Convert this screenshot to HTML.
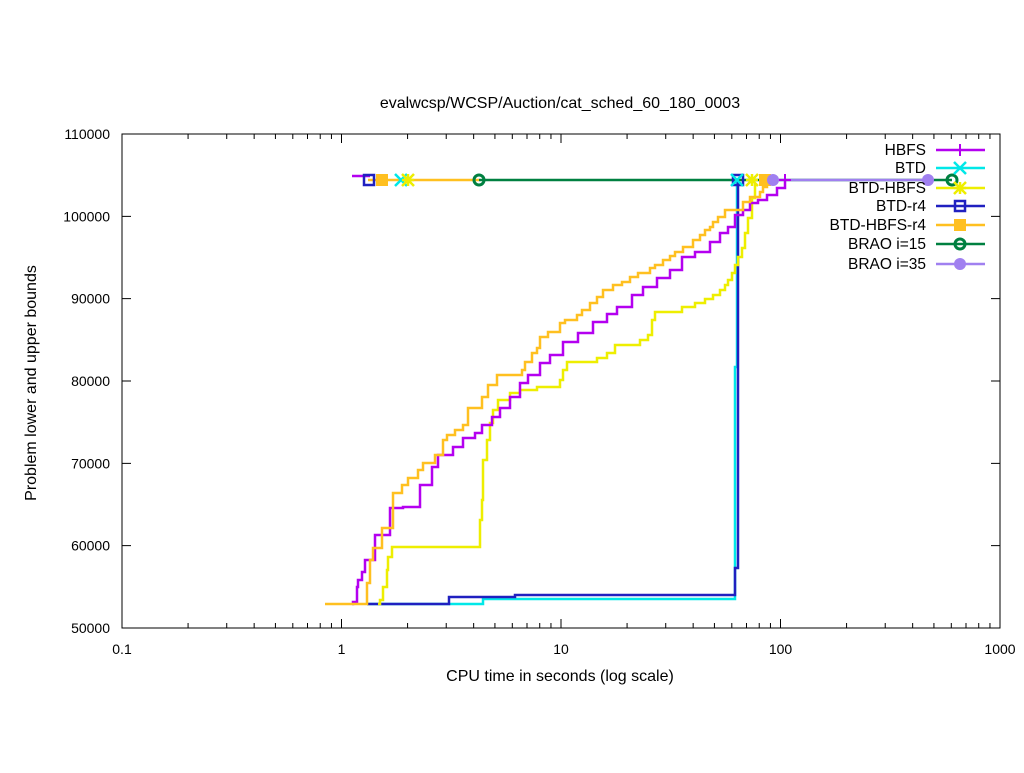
<!DOCTYPE html>
<html><head><meta charset="utf-8"><style>
body{margin:0;background:#fff}
svg text{font-family:"Liberation Sans",sans-serif;font-size:14px;fill:#000}
svg text.b{font-size:16px}
</style></head><body>
<svg id="s" width="1024" height="768" xmlns="http://www.w3.org/2000/svg">
<rect width="1024" height="768" fill="#fff"/>
<g id="g"></g>
</svg>
<script>
const NS="http://www.w3.org/2000/svg",g=document.getElementById('g');
function el(t,a,txt){const e=document.createElementNS(NS,t);for(const k in a)e.setAttribute(k,a[k]);if(txt!=null)e.textContent=txt;g.appendChild(e);return e;}
const X0=122,X1=1000,Y0=628,Y1=134,dec=(X1-X0)/4;
let tk="";
for(let d=0;d<4;d++)for(let m=1;m<10;m++){const x=X0+dec*(d+Math.log10(m));const L=m==1?9:5;tk+=`M${x},${Y0}v-${L}M${x},${Y1}v${L}`;}
tk+=`M${X1},${Y0}v-9M${X1},${Y1}v9`;
for(let i=0;i<=6;i++){const y=Y0-(Y0-Y1)*i/6;tk+=`M${X0},${y}h9M${X1},${y}h-9`;}
el('path',{d:tk,stroke:'#000','stroke-width':1,fill:'none'});
el('rect',{x:X0,y:Y1,width:X1-X0,height:Y0-Y1,fill:'none',stroke:'#000','stroke-width':1});
['0.1','1','10','100','1000'].forEach((t,i)=>el('text',{x:X0+dec*i,y:654,'text-anchor':'middle'},t));
for(let i=0;i<=6;i++)el('text',{x:110,y:Y0-(Y0-Y1)*i/6+5,'text-anchor':'end'},String(50000+10000*i));
el('text',{x:560,y:681,'text-anchor':'middle',class:'b'},'CPU time in seconds (log scale)');
el('text',{x:560,y:108,'text-anchor':'middle',class:'b'},'evalwcsp/WCSP/Auction/cat_sched_60_180_0003');
el('text',{x:36,y:383,'text-anchor':'middle',class:'b',transform:'rotate(-90 36 383)'},'Problem lower and upper bounds');
function step(pts,c){let d=`M${pts[0][0]},${pts[0][1]}`;for(let i=1;i<pts.length;i++)d+=`H${pts[i][0]}V${pts[i][1]}`;el('path',{d:d,stroke:c,'stroke-width':2.5,fill:'none'});}
function line(x1,x2,y,c){el('line',{x1:x1,x2:x2,y1:y,y2:y,stroke:c,'stroke-width':2.5});}
const C={h:'#b400f0',b:'#00e8e8',bh:'#eeee00',r4:'#2020c0',hr4:'#ffc020',b15:'#008040',b35:'#a080f0'};
function mk(type,x,y,c){
 if(type=='plus')el('path',{d:`M${x-6},${y}h12M${x},${y-6}v12`,stroke:c,'stroke-width':2});
 if(type=='x')el('path',{d:`M${x-6},${y-6}l12,12M${x-6},${y+6}l12,-12`,stroke:c,'stroke-width':2.5});
 if(type=='star')el('path',{d:`M${x-6},${y-6}l12,12M${x-6},${y+6}l12,-12M${x-6},${y}h12M${x},${y-6}v12`,stroke:c,'stroke-width':2.5});
 if(type=='sq')el('rect',{x:x-5,y:y-5,width:10,height:10,fill:'none',stroke:c,'stroke-width':2.5});
 if(type=='fsq')el('rect',{x:x-6,y:y-6,width:12,height:12,fill:c});
 if(type=='oc'){el('circle',{cx:x,cy:y,r:5,fill:'none',stroke:c,'stroke-width':3});}
 if(type=='fc')el('circle',{cx:x,cy:y,r:6,fill:c});
}
step([[367,604],[483,599],[735,367],[737,180]],C.b);
step([[367,604],[449,597],[515,595],[735,568],[738,180]],C.r4);
step([[378,604],[380,600],[383,587],[387,570],[388,557],[392,547],[480,520],[482,500],[483,460],[487,440],[490,423],[493,410],[498,400],[510,393],[520,390],[537,387],[560,380],[563,370],[567,362],[597,358],[607,353],[615,345],[640,340],[648,335],[652,320],[655,312],[682,307],[695,303],[705,299],[713,295],[720,290],[725,285],[728,280],[732,273],[735,265],[738,257],[742,248],[745,233],[748,218],[752,198],[755,183]],C.bh);
step([[352,604],[353,602],[357,587],[358,580],[362,572],[365,560],[375,535],[390,508],[403,507],[420,485],[432,467],[438,455],[453,447],[463,438],[475,433],[482,425],[492,417],[500,408],[510,397],[520,383],[528,375],[540,363],[550,355],[563,342],[578,333],[593,322],[607,314],[617,307],[632,295],[643,287],[657,278],[670,270],[682,257],[695,252],[710,242],[720,233],[728,227],[735,215],[743,210],[750,203],[758,200],[767,195],[777,188],[785,180]],C.h);
step([[325,604],[367,583],[370,560],[373,548],[382,528],[393,493],[402,485],[408,478],[418,470],[423,463],[435,455],[443,440],[447,435],[455,430],[463,425],[468,408],[482,397],[488,385],[497,375],[522,370],[525,362],[532,353],[537,348],[540,337],[548,332],[560,323],[565,320],[577,315],[582,310],[590,303],[597,297],[603,290],[613,285],[622,282],[630,277],[638,273],[650,268],[655,265],[663,260],[670,256],[675,252],[683,247],[693,240],[700,235],[705,230],[710,227],[713,222],[718,217],[725,210],[743,202],[750,197],[760,192],[763,187],[767,180]],C.hr4);
line(352,370,176,C.h);
line(368,479,180,C.hr4);
line(479,952,180,C.b15);
line(773,928,180,C.b35);
mk('sq',369,180,C.r4);mk('fsq',382,180,C.hr4);mk('x',401,180,C.b);mk('star',408,180,C.bh);
mk('oc',479,180,C.b15);mk('sq',738,180,C.r4);mk('x',737,180,C.b);mk('star',752,180,C.bh);
mk('fsq',765,180,C.hr4);mk('fc',773,180,C.b35);mk('plus',785,180,C.h);mk('fc',928,180,C.b35);mk('oc',952,180,C.b15);
const L=[['HBFS','plus',C.h],['BTD','x',C.b],['BTD-HBFS','star',C.bh],['BTD-r4','sq',C.r4],['BTD-HBFS-r4','fsq',C.hr4],['BRAO i=15','oc',C.b15],['BRAO i=35','fc',C.b35]];
const LY=[150,168,188,206,225,244,264];
L.forEach((l,i)=>{const y=LY[i];el('text',{x:926,y:y+5,'text-anchor':'end',style:'font-size:15.5px'},l[0]);line(936,985,y,l[2]);mk(l[1],960,y,l[2]);});
</script>
</body></html>
